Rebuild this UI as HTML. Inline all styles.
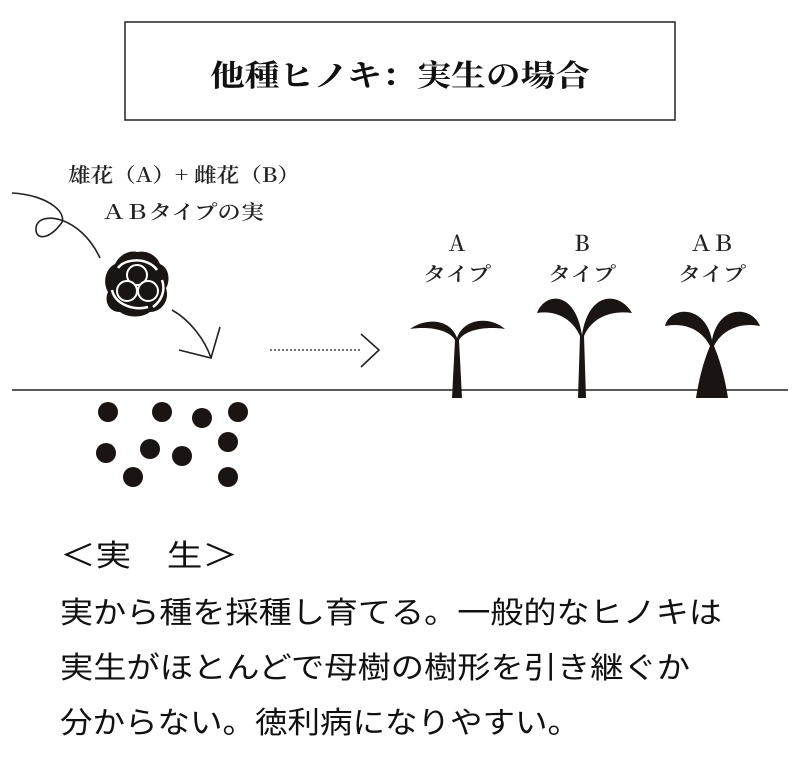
<!DOCTYPE html>
<html><head><meta charset="utf-8"><style>
html,body{margin:0;padding:0;background:#fff;}
svg{display:block}
</style></head><body>
<svg width="800" height="767" viewBox="0 0 800 767" xmlns="http://www.w3.org/2000/svg">
<rect x="125" y="22" width="550" height="98" fill="none" stroke="#222" stroke-width="1.5"/>
<text x="400" y="86" text-anchor="middle" font-family="'Liberation Serif','Noto Serif CJK SC',serif" font-weight="bold" font-size="30" fill="#111" textLength="380" lengthAdjust="spacingAndGlyphs">他種ヒノキ：実生の場合</text>

<g font-family="'Noto Serif CJK SC','Liberation Serif',serif" font-size="20" font-weight="600" fill="#222">
<text x="68" y="182" textLength="232" lengthAdjust="spacingAndGlyphs">雄花（A）+ 雌花（B）</text>
<text x="102" y="219" textLength="162" lengthAdjust="spacingAndGlyphs">ＡＢタイプの実</text>
<text x="457" y="251" text-anchor="middle" font-size="22">A</text>
<text x="582" y="251" text-anchor="middle" font-size="22">B</text>
<text x="712" y="251" text-anchor="middle" font-size="22">ＡＢ</text>
<text x="457" y="281" text-anchor="middle" textLength="68" lengthAdjust="spacingAndGlyphs">タイプ</text>
<text x="582" y="281" text-anchor="middle" textLength="68" lengthAdjust="spacingAndGlyphs">タイプ</text>
<text x="712" y="281" text-anchor="middle" textLength="68" lengthAdjust="spacingAndGlyphs">タイプ</text>
</g>

<path d="M12,193 C50,195 70,215 60,225 C48,240 35,240 36,228 C38,210 80,215 100,258" fill="none" stroke="#222" stroke-width="1.6"/>
<g>
<path d="M137,252 C150,250 158,258 160,264 C170,268 170,282 166,288 C170,300 162,312 150,312 C142,318 128,318 120,312 C108,312 104,300 108,292 C102,282 106,268 115,264 C120,254 130,250 137,252Z" fill="#1a1412"/>
<path d="M118,268 C125,258 148,257 157,270 M112,290 C115,304 133,311 148,307 M162,280 C166,291 161,301 153,307" stroke="#fff" stroke-width="2.5" fill="none"/>
<circle cx="137" cy="275" r="10" fill="#1a1412" stroke="#fff" stroke-width="2"/>
<circle cx="127" cy="291" r="10" fill="#1a1412" stroke="#fff" stroke-width="2"/>
<circle cx="148" cy="291" r="10" fill="#1a1412" stroke="#fff" stroke-width="2"/>
</g>
<path d="M172,310 C190,320 205,340 211,358" fill="none" stroke="#222" stroke-width="1.6"/>
<path d="M179,350 L211,358 L220,327" fill="none" stroke="#222" stroke-width="1.6"/>
<line x1="270" y1="350" x2="362" y2="350" stroke="#222" stroke-width="1.3" stroke-dasharray="2,2"/>
<path d="M361,334 L379,350 L361,367" fill="none" stroke="#222" stroke-width="1.6"/>

<line x1="12" y1="390" x2="788" y2="390" stroke="#222" stroke-width="1.5"/>

<g fill="#1a1412">
<path d="M410,329 C425,318 450,318 457,338 C464,318 490,316 505,329 C485,326 465,330 459,340 L462,398 L452,398 L455,340 C449,330 430,326 410,329Z"/>
<path d="M537,313 C545,292 575,290 582,335 C589,290 620,292 632,313 C610,310 592,318 584,336 L586,398 L578,398 L580,336 C572,318 555,310 537,313Z"/>
<path d="M665,326 C670,306 705,304 712,340 C719,304 752,306 760,326 C740,322 722,330 714,346 C722,365 726,385 728,398 L696,398 C698,385 702,365 710,346 C702,330 685,322 665,326Z"/>
<circle cx="108" cy="412" r="10"/><circle cx="162" cy="412" r="10"/><circle cx="202" cy="418" r="10"/><circle cx="238" cy="412" r="10"/>
<circle cx="106" cy="453" r="10"/><circle cx="150" cy="449" r="10"/><circle cx="182" cy="456" r="10"/><circle cx="228" cy="442" r="10"/>
<circle cx="133" cy="477" r="10"/><circle cx="228" cy="477" r="10"/>
</g>

<g font-family="'Liberation Sans','Noto Sans CJK JP',sans-serif" font-size="30" fill="#111">
<text x="60" y="566" textLength="178" lengthAdjust="spacingAndGlyphs">＜実　生＞</text>
<text x="60" y="623" textLength="662" lengthAdjust="spacingAndGlyphs">実から種を採種し育てる。一般的なヒノキは</text>
<text x="60" y="678" textLength="630" lengthAdjust="spacingAndGlyphs">実生がほとんどで母樹の樹形を引き継ぐか</text>
<text x="60" y="733" textLength="520" lengthAdjust="spacingAndGlyphs">分からない。徳利病になりやすい。</text>
</g>
</svg>
</body></html>
